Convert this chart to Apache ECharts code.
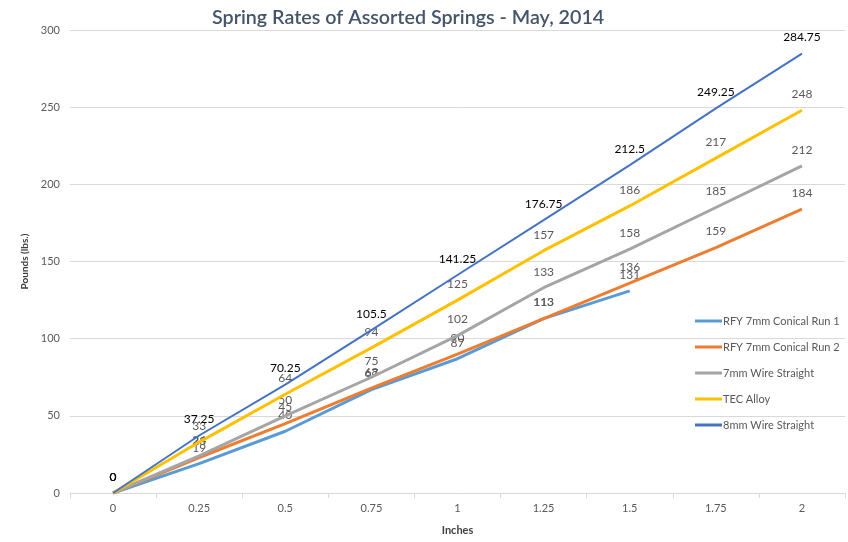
<!DOCTYPE html>
<html>
<head>
<meta charset="utf-8">
<script src="https://cdn.jsdelivr.net/npm/echarts@6/dist/echarts.min.js"></script>
<style>html,body{margin:0;padding:0;background:#fff}#c{width:848px;height:542px}</style>
</head>
<body>
<div id="c"></div>
<script>
var categories = ['0','0.25','0.5','0.75','1','1.25','1.5','1.75','2'];
var yTicks = [0,50,100,150,200,250,300];
var run1 = [0,19,40,67,87,113,131,null,null];
var run2 = [0,23,45,68,90,113,136,159,184];
var wire7 = [0,24,50,75,102,133,158,185,212];
var tec = [0,33,64,94,125,157,186,217,248];
var wire8 = [0,37.25,70.25,105.5,141.25,176.75,212.5,249.25,284.75];
var names = ['RFY 7mm Conical Run 1','RFY 7mm Conical Run 2','7mm Wire Straight','TEC Alloy','8mm Wire Straight'];
var colors = ['#5B9BD5','#ED7D31','#A5A5A5','#FFC000','#4472C4'];
var widths = [3,3,3,3,2];
var labelColors = ['#595959','#595959','#595959','#595959','#000000'];
var dataSets = [run1, run2, wire7, tec, wire8];
var FONT = 'Lato, "Open Sans", sans-serif';

var chart = echarts.init(document.getElementById('c'));
chart.setOption({
  animation: false,
  textStyle: {fontFamily: FONT},
  title: {
    text: 'Spring Rates of Assorted Springs - May, 2014',
    left: 207, top: 3,
    textStyle: {fontFamily: FONT, fontSize: 19.7, fontWeight: 600, color: '#44546A'}
  },
  legend: {
    orient: 'vertical', left: 690, top: 309,
    itemWidth: 27, itemHeight: 3, itemGap: 12, icon: 'rect',
    data: names,
    textStyle: {fontFamily: FONT, fontSize: 11, color: '#595959', lineHeight: 14, padding: [0,0,0,-4]}
  },
  grid: {left: 70, right: 3, top: 30, bottom: 49},
  xAxis: {
    type: 'category', data: categories, boundaryGap: true,
    name: 'Inches', nameLocation: 'middle', nameGap: 32,
    nameTextStyle: {fontFamily: FONT, fontSize: 11, fontWeight: 'bold', color: '#404040'},
    axisLine: {lineStyle: {color: '#D9D9D9'}},
    axisTick: {show: true, length: 5, lineStyle: {color: '#D9D9D9'}},
    axisLabel: {fontFamily: FONT, fontSize: 11, color: '#595959', margin: 10}
  },
  yAxis: {
    type: 'value', min: yTicks[0], max: yTicks[yTicks.length-1], interval: 50,
    name: 'Pounds (lbs.)', nameLocation: 'middle', nameGap: 40,
    nameTextStyle: {fontFamily: FONT, fontSize: 10, fontWeight: 'bold', color: '#404040'},
    axisLine: {show: false}, axisTick: {show: false},
    splitLine: {lineStyle: {color: '#D9D9D9'}},
    axisLabel: {fontFamily: FONT, fontSize: 11, color: '#595959', margin: 10}
  },
  series: dataSets.map(function(d, i){
    return {
      name: names[i], type: 'line', data: d,
      showSymbol: true, symbol: 'circle', symbolSize: 0,
      lineStyle: {color: colors[i], width: widths[i]},
      itemStyle: {color: colors[i]},
      label: {show: true, position: 'top', distance: 10, fontFamily: FONT, fontSize: 12, color: labelColors[i]},
      z: 2 + i
    };
  })
});
</script>
</body>
</html>
